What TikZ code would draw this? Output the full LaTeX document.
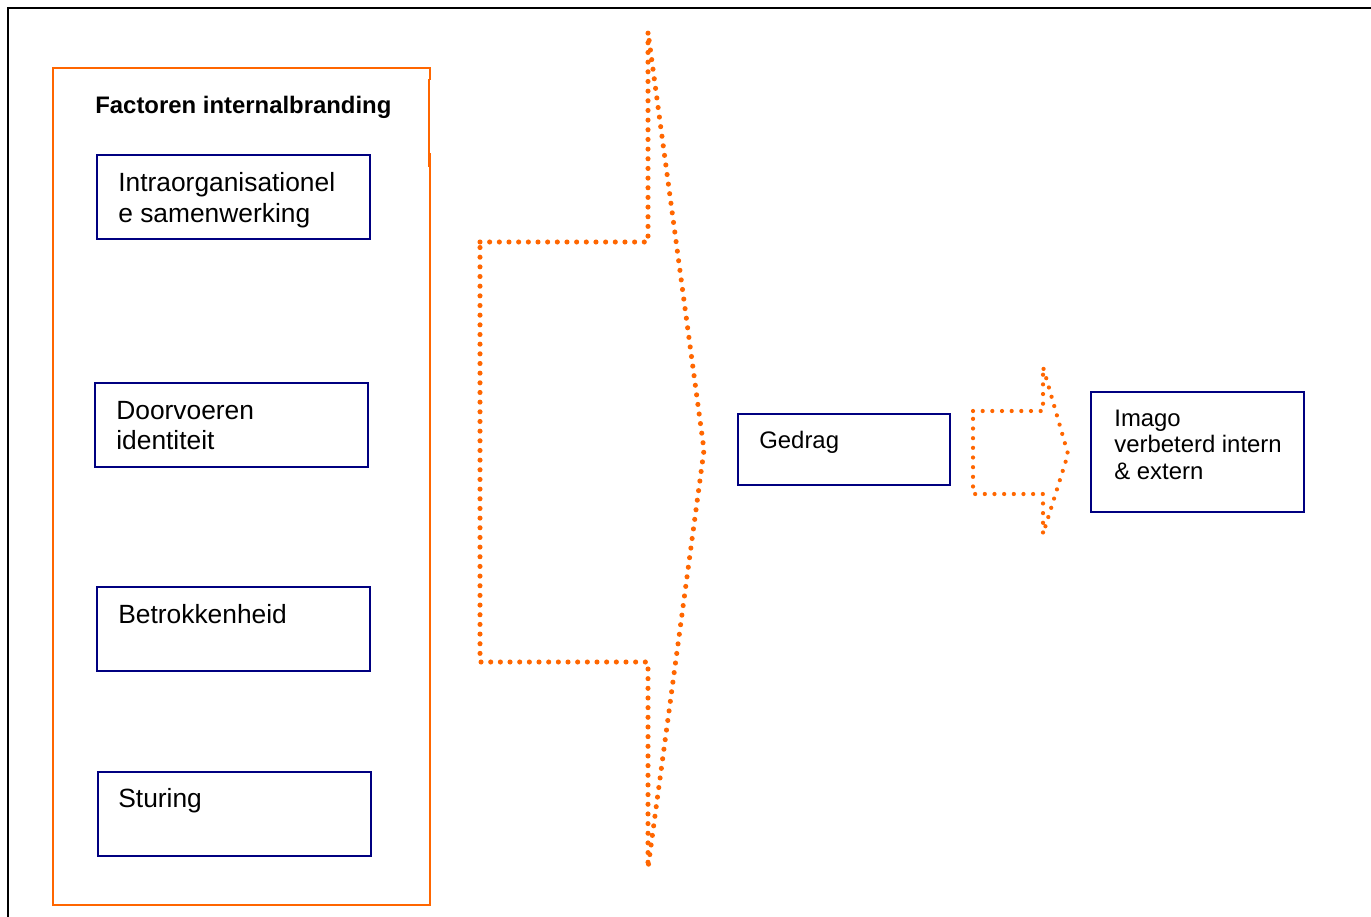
\documentclass[tikz,border=0pt]{standalone}
\usepackage{fontspec}
\setmainfont{Liberation Sans}
\definecolor{orng}{RGB}{255,102,0}
\definecolor{navyb}{RGB}{0,0,128}
\begin{document}
\begin{tikzpicture}[x=0.02cm,y=-0.02cm]
\tikzset{
  bluebox/.style={draw=navyb, line width=0.04cm, anchor=north west, inner sep=0pt, outer sep=0pt},
  lbl/.style={anchor=base west, inner sep=0pt, font=\fontsize{15}{18}\selectfont},
  rlbl/.style={anchor=base west, inner sep=0pt, font=\fontsize{13.6}{16}\selectfont},
  ttl/.style={anchor=base west, inner sep=0pt, font=\bfseries\fontsize{13.6}{16}\selectfont},
  bigdots/.style={draw=orng, line width=2.9pt, line cap=round, line join=round, dash pattern=on 0pt off 5.5pt},
  smalldots/.style={draw=orng, line width=2.4pt, line cap=round, line join=round, dash pattern=on 0pt off 5.5pt},
  framebox/.style={draw=orng, line width=0.04cm}
}
\useasboundingbox (0,0) rectangle (1371,916);
% outer frame
\draw[black, line width=0.04cm] (8,930) -- (8,8) -- (1390,8);
% orange container
\draw[framebox] (430,80) -- (430,68) -- (53,68) -- (53,905) -- (430,905) -- (430,153);
\draw[framebox] (428.5,79) -- (428.5,167);
\node[ttl] (title) at (95,113) {Factoren internalbranding};
% left boxes
\node[bluebox, minimum width=273*0.02cm, minimum height=84*0.02cm] (b1) at (97,155) {};
\node[lbl] (t1a) at (118,191) {Intraorganisationel};
\node[lbl] (t1b) at (118,222) {e samenwerking};
\node[bluebox, minimum width=273*0.02cm, minimum height=84*0.02cm] (b2) at (95,383) {};
\node[lbl] (t2a) at (116,419) {Doorvoeren};
\node[lbl] (t2b) at (116,449) {identiteit};
\node[bluebox, minimum width=273*0.02cm, minimum height=84*0.02cm] (b3) at (97,587) {};
\node[lbl] (t3a) at (118,623) {Betrokkenheid};
\node[bluebox, minimum width=273*0.02cm, minimum height=84*0.02cm] (b4) at (98,772) {};
\node[lbl] (t4a) at (118,807) {Sturing};
% big dotted arrow
\draw[bigdots] (480,242) -- (648,242) -- (648,32) -- (704,450) -- (648,868) -- (648,662) -- (480,662) -- cycle;
% Gedrag
\node[bluebox, minimum width=212*0.02cm, minimum height=71*0.02cm] (g) at (738,414) {};
\node[rlbl] (tg) at (759,448) {Gedrag};
% small dotted arrow
\draw[smalldots] (973,411) -- (1043,411) -- (1043,367) -- (1068,454) -- (1043,534) -- (1043,494) -- (973,494) -- cycle;
% Imago
\node[bluebox, minimum width=213*0.02cm, minimum height=120*0.02cm] (im) at (1091,392) {};
\node[rlbl] (ti1) at (1114,426) {Imago};
\node[rlbl] (ti2) at (1114,452.5) {verbeterd intern};
\node[rlbl] (ti3) at (1114,479) {\& extern};
\end{tikzpicture}
\end{document}
